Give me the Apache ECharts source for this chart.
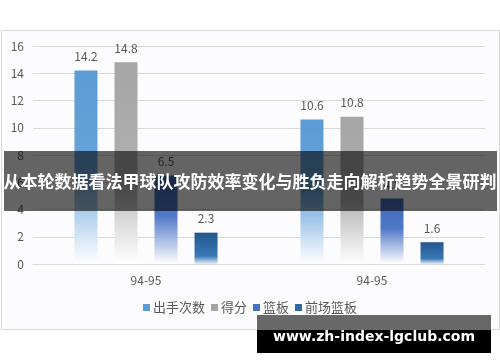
<!DOCTYPE html>
<html><head><meta charset="utf-8">
<script src="https://cdn.jsdelivr.net/npm/echarts@6/dist/echarts.min.js"></script>
<style>
html,body{margin:0;padding:0;background:#fff;}
#frame{position:absolute;left:1px;top:30px;width:497px;height:298px;border:1px solid #d9d9d9;background:#fcfbfd;}
#chart{position:absolute;left:0;top:0;width:500px;height:362px;}
</style></head>
<body>
<div id="frame"></div>
<div id="chart"></div>
<script>
const categories = ['94-95', '94-95'];
const seriesNames = ['出手次数', '得分', '篮板', '前场篮板'];
const shots = [14.2, 10.6];
const points = [14.8, 10.8];
const rebounds = [6.5, 4.8];
const offRebounds = [2.3, 1.6];
const yTicks = [0, 2, 4, 6, 8, 10, 12, 14, 16];
const bannerText = '从本轮数据看法甲球队攻防效率变化与胜负走向解析趋势全景研判';
const watermarkText = 'www.zh-index-lgclub.com';

function grad(stops) {
  return { type: 'linear', x: 0, y: 0, x2: 0, y2: 1,
    colorStops: stops.map(s => ({ offset: s[0], color: s[1] })) };
}
const colors = [
  grad([[0, '#5b9bd5'], [0.5, '#67a3da'], [1, '#ffffff']]),
  grad([[0, '#a5a5a5'], [0.55, '#b0b0b0'], [1, '#ffffff']]),
  grad([[0, '#4068b8'], [0.45, '#5078c8'], [1, '#ffffff']]),
  grad([[0, '#22578b'], [0.75, '#3a78b8'], [1, '#e6eef8']])
];
const legendColors = ['#5b9bd5', '#a5a5a5', '#4472c4', '#2e6aa6'];
const dataSets = [shots, points, rebounds, offRebounds];

const chart = echarts.init(document.getElementById('chart'), null, { renderer: 'canvas' });
chart.setOption({
  animation: false,
  textStyle: { fontFamily: 'Noto Sans CJK SC, Noto Sans, sans-serif' },
  grid: { left: 33, right: 15, top: 46, bottom: 98 },
  legend: {
    bottom: 43, left: 'center', icon: 'rect', itemWidth: 7, itemHeight: 7, itemGap: 6,
    textStyle: { color: '#595959', fontSize: 13, padding: [0, 0, 0, -2] },
    data: seriesNames.map((n, i) => ({ name: n, itemStyle: { color: legendColors[i] } }))
  },
  xAxis: {
    type: 'category', data: categories,
    axisLine: { lineStyle: { color: '#d9d9d9' } },
    axisTick: { show: false },
    axisLabel: { color: '#595959', fontSize: 12, margin: 10 }
  },
  yAxis: {
    type: 'value', min: yTicks[0], max: yTicks[yTicks.length - 1], interval: 2,
    axisLine: { show: false }, axisTick: { show: false },
    axisLabel: { color: '#595959', fontSize: 12, margin: 9 },
    splitLine: { lineStyle: { color: '#d9d9d9' } }
  },
  series: seriesNames.map((n, i) => ({
    name: n, type: 'bar', data: dataSets[i], barWidth: 23, barGap: '74%',
    itemStyle: { color: colors[i] },
    label: { show: true, position: 'top', distance: 8, color: '#595959', fontSize: 12 }
  })),
  graphic: [
    { type: 'rect', z: 100, shape: { x: 4, y: 151, width: 493, height: 60 },
      style: { fill: 'rgba(0,0,0,0.6)' } },
    { type: 'text', z: 101, x: 250, y: 182,
      style: { text: bannerText, fill: '#ffffff', fontSize: 17, fontWeight: 'bold',
        fontFamily: 'Noto Sans CJK SC', textAlign: 'center', textVerticalAlign: 'middle' } },
    { type: 'rect', z: 100, shape: { x: 257, y: 315, width: 234, height: 15 },
      style: { fill: '#686868' } },
    { type: 'rect', z: 100, shape: { x: 257, y: 330, width: 234, height: 23 },
      style: { fill: '#000000' } },
    { type: 'text', z: 101, x: 374, y: 337,
      style: { text: watermarkText, fill: '#ffffff', fontSize: 14, fontWeight: 'bold',
        fontFamily: 'DejaVu Sans', textAlign: 'center', textVerticalAlign: 'middle' } }
  ]
});
</script>
</body></html>
